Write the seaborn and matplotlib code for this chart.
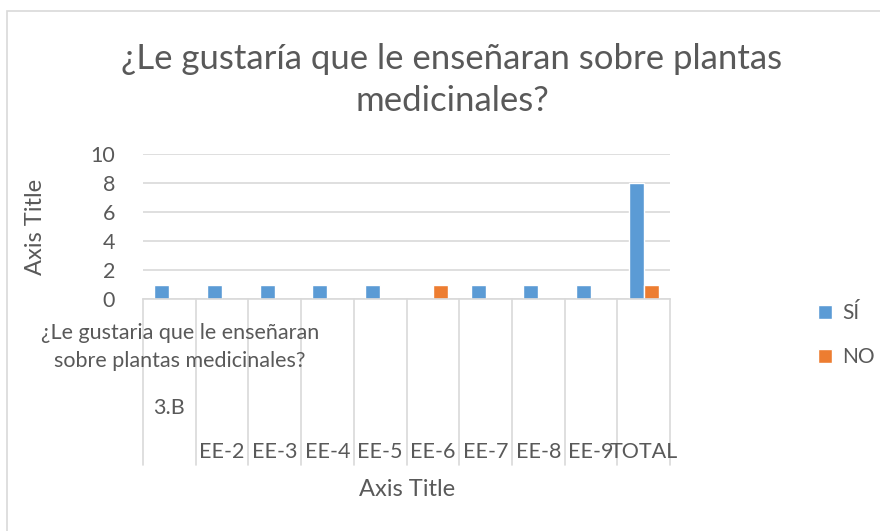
import matplotlib
matplotlib.use("Agg")
import matplotlib.pyplot as plt
import matplotlib.patches as mpatches
import seaborn as sns
import pandas as pd

categories = ["3.B", "EE-2", "EE-3", "EE-4", "EE-5", "EE-6", "EE-7", "EE-8", "EE-9", "TOTAL"]
si_values = [1, 1, 1, 1, 1, 0, 1, 1, 1, 8]
no_values = [0, 0, 0, 0, 0, 1, 0, 0, 0, 1]
series_names = ["SÍ", "NO"]
colors = ["#5B9BD5", "#ED7D31"]
title = "¿Le gustaría que le enseñaran sobre plantas\nmedicinales?"
group_label = "¿Le gustaria que le enseñaran\nsobre plantas medicinales?"
yticks = [0, 2, 4, 6, 8, 10]

df = pd.DataFrame({
    "cat": categories * 2,
    "serie": [series_names[0]] * len(categories) + [series_names[1]] * len(categories),
    "val": si_values + no_values,
})

sns.set_theme(style="white")
plt.rcParams["font.family"] = ["Lato", "DejaVu Sans"]
TXT = "#595959"
GRID = "#D9D9D9"
FS = 15.5

W, H = 880, 531
fig = plt.figure(figsize=(W / 100, H / 100), dpi=100)
fig.patch.set_facecolor("white")

# outer chart border
fig.add_artist(mpatches.Rectangle((7 / W, -0.1), 1.2, 1 - 11 / H + 0.1, transform=fig.transFigure,
                                  fill=False, edgecolor="#D9D9D9", lw=1.2))

x0, x1, ytop, ybot = 143, 670, 154, 299
ax = fig.add_axes([x0 / W, 1 - ybot / H, (x1 - x0) / W, (ybot - ytop) / H])

sns.barplot(data=df, x="cat", y="val", hue="serie", order=categories, hue_order=series_names,
            palette=colors, width=0.57, ax=ax, saturation=1, legend=True)

ax.set_ylim(0, 10)
ax.set_xlim(-0.5, len(categories) - 0.5)
ax.set_yticks(yticks)
ax.set_yticklabels([str(t) for t in yticks], color=TXT, fontsize=FS)
ax.tick_params(axis="y", length=0, pad=20)
ax.set_xticks([])
ax.set_xlabel("")
ax.set_ylabel("")
ax.yaxis.grid(True, color=GRID, lw=1.2)
ax.set_axisbelow(True)
for s in ["left", "right", "top"]:
    ax.spines[s].set_visible(False)
ax.spines["bottom"].set_color(GRID)
ax.spines["bottom"].set_linewidth(1.2)

# category separators (multi-level axis)
axh = ybot - ytop
ybottom_sep = -(465 - ybot) / axh
for i in range(len(categories) + 1):
    ax.plot([i - 0.5, i - 0.5], [0, ybottom_sep], color=GRID, lw=1.2, clip_on=False,
            transform=ax.get_xaxis_transform())

def ypix(p):
    return -(p - ybot) / axh

tr = ax.get_xaxis_transform()
ax.text(0, ypix(408), categories[0], ha="center", va="center", color=TXT, fontsize=FS, transform=tr)
for i, c in enumerate(categories[1:], start=1):
    ax.text(i, ypix(452), c, ha="center", va="center", color=TXT, fontsize=FS, transform=tr)
ax.text(0.2, ypix(347), group_label, ha="center", va="center", color=TXT, fontsize=FS,
        transform=tr, linespacing=1.55, multialignment="center")

fig.text(452 / W, 1 - 80 / H, title, ha="center", va="center", color=TXT, fontsize=25, linespacing=1.42)
fig.text(35 / W, 1 - 227 / H, "Axis Title", ha="center", va="center", rotation=90, color=TXT, fontsize=17)
fig.text(407 / W, 1 - 490 / H, "Axis Title", ha="center", va="center", color=TXT, fontsize=17)

leg = ax.legend(loc="center left", bbox_to_anchor=(818 / W, 1 - 335 / H), bbox_transform=fig.transFigure,
                frameon=False, fontsize=15, handlelength=0.65, handleheight=0.65, handletextpad=0.5,
                labelspacing=1.15, borderpad=0, borderaxespad=0)
for t in leg.get_texts():
    t.set_color(TXT)

fig.savefig("out.png", dpi=100, facecolor="white")
